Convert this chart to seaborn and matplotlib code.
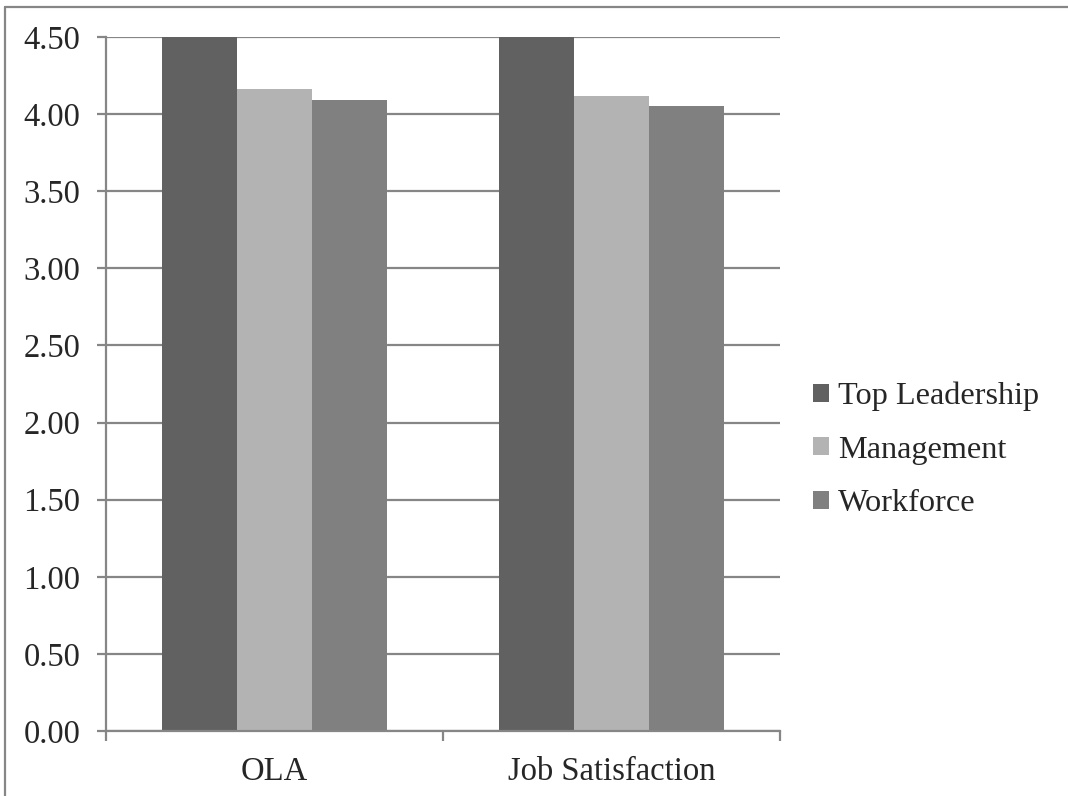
import matplotlib
matplotlib.use("Agg")
import matplotlib.pyplot as plt
import seaborn as sns
import pandas as pd
from matplotlib.lines import Line2D

categories = ["OLA", "Job Satisfaction"]
groups = ["Top Leadership", "Management", "Workforce"]
top_leadership = [4.60, 4.60]
management = [4.16, 4.12]
workforce = [4.09, 4.05]
y_ticks = [0.0, 0.5, 1.0, 1.5, 2.0, 2.5, 3.0, 3.5, 4.0, 4.5]
colors = ["#616161", "#b3b3b3", "#808080"]

rows = []
for g, vals in zip(groups, [top_leadership, management, workforce]):
    for c, v in zip(categories, vals):
        rows.append({"category": c, "group": g, "value": v})
df = pd.DataFrame(rows)

sns.set_style("white")
plt.rcParams["font.family"] = ["Liberation Serif", "DejaVu Serif"]

fig = plt.figure(figsize=(10.68, 7.96), dpi=100)
ax = fig.add_axes([106/1068, 1-731/796, (780-106)/1068, (731-37)/796])

sns.barplot(data=df, x="category", y="value", hue="group", order=categories,
            hue_order=groups, palette=colors, width=0.667, gap=0,
            saturation=1, ax=ax, errorbar=None, legend=True, linewidth=0)

ax.set_ylim(0, 4.5)
ax.set_xlim(-0.5, 1.5)
ax.set_yticks(y_ticks)
ax.set_yticklabels([f"{t:.2f}" for t in y_ticks])
ax.set_xlabel("")
ax.set_ylabel("")
ax.yaxis.grid(True, color="#868686", linewidth=1.6)
ax.set_axisbelow(True)
for s in ["top", "right"]:
    ax.spines[s].set_visible(False)
for s in ["left", "bottom"]:
    ax.spines[s].set_color("#868686")
    ax.spines[s].set_linewidth(1.6)

ax.tick_params(axis="y", which="major", length=6.5, width=1.6, color="#868686",
               pad=12, labelsize=23.5, left=True, direction="out")
ax.set_xticks([0, 1])
ax.set_xticklabels(categories)
ax.tick_params(axis="x", which="major", length=0, pad=18, labelsize=23.5)
ax.set_xticks([-0.5, 0.5, 1.5], minor=True)
ax.tick_params(axis="x", which="minor", length=7, width=1.6, color="#868686",
               bottom=True, direction="out")

leg = ax.legend(loc="center left", bbox_to_anchor=(1.03, 0.405), frameon=False,
                fontsize=23.2, handlelength=0.5, handleheight=0.5,
                handletextpad=0.28, labelspacing=0.76, borderaxespad=0)

fig.add_artist(Line2D([5/1068, 5/1068], [0, 1-7/796], transform=fig.transFigure,
                      color="#868686", linewidth=1.6))
fig.add_artist(Line2D([5/1068, 1], [1-7/796, 1-7/796], transform=fig.transFigure,
                      color="#868686", linewidth=1.6))

fig.savefig("out.png", dpi=100)
